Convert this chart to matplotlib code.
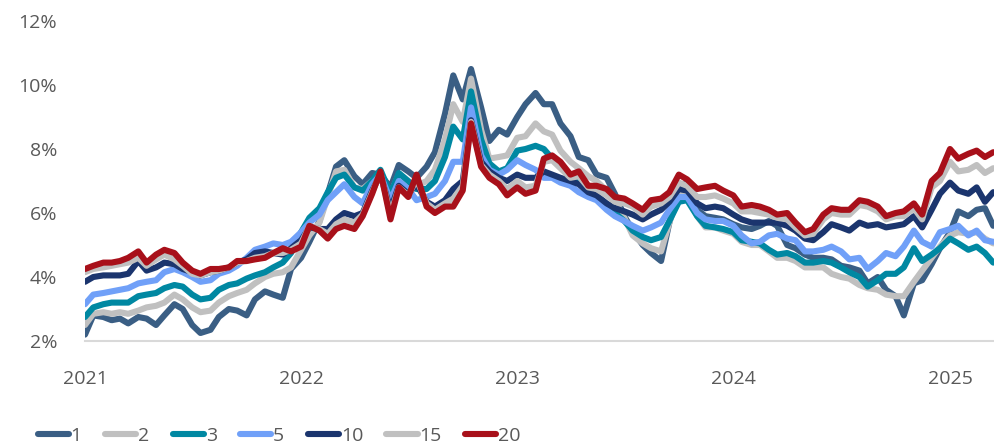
import pandas as pd
import matplotlib.pyplot as plt
import matplotlib.dates as mdates
from matplotlib.ticker import FuncFormatter

# semi-monthly observations, Jan 2021 - mid Mar 2025
dates = pd.date_range('2021-01-01', periods=102, freq='SMS')

y1 = [2.2, 2.8, 2.75, 2.65, 2.7, 2.55, 2.75, 2.7, 2.5, 2.8, 3.15, 3.0, 2.5, 2.25, 2.35, 2.75, 3.0, 2.95, 2.8, 3.3, 3.55, 3.45, 3.35, 4.25, 4.6,
      5.1, 5.75, 6.6, 7.45, 7.65, 7.15, 6.9, 7.25, 7.2, 6.8, 7.5, 7.3, 7.1, 7.45, 7.9, 9.1, 10.3, 9.55, 10.5, 9.3, 8.25, 8.6, 8.45, 9.0,
      9.4, 9.75, 9.4, 9.4, 8.8, 8.4, 7.75, 7.65, 7.2, 7.1, 6.6, 5.9, 5.45, 5.0, 4.75, 4.5, 5.7, 6.85, 6.95, 6.1, 5.9, 5.85, 5.8, 5.65,
      5.55, 5.5, 5.6, 5.75, 5.6, 5.0, 4.9, 4.7, 4.6, 4.6, 4.55, 4.35, 4.3, 4.2, 3.8, 4.0, 3.6, 3.4, 2.8, 3.8, 3.9, 4.4, 4.9, 5.4, 6.05, 5.9, 6.1, 6.15, 5.6]

y2 = [2.5, 2.85, 2.9, 2.85, 2.9, 2.85, 2.95, 3.05, 3.1, 3.2, 3.45, 3.3, 3.05, 2.9, 2.95, 3.2, 3.4, 3.5, 3.6, 3.8, 4.0, 4.1, 4.15, 4.3, 4.85,
      5.3, 5.7, 6.5, 7.3, 7.35, 6.8, 6.75, 7.0, 7.2, 6.6, 7.2, 6.9, 6.85, 7.0, 7.35, 8.3, 9.4, 8.85, 10.2, 8.6, 7.7, 7.75, 7.8, 8.35,
      8.4, 8.8, 8.55, 8.45, 7.95, 7.6, 7.4, 7.15, 7.0, 6.7, 6.4, 5.85, 5.3, 5.05, 4.9, 4.8, 5.7, 6.55, 6.6, 5.9, 5.55, 5.55, 5.45, 5.35,
      5.1, 5.0, 5.0, 4.8, 4.6, 4.6, 4.5, 4.3, 4.3, 4.3, 4.1, 4.0, 3.95, 3.75, 3.65, 3.6, 3.45, 3.4, 3.4, 3.85, 4.2, 4.6, 4.95, 5.3, 5.4, 5.35, 5.4, 5.2, 5.05]

y3 = [2.75, 3.05, 3.15, 3.2, 3.2, 3.2, 3.4, 3.45, 3.5, 3.65, 3.75, 3.7, 3.45, 3.3, 3.35, 3.6, 3.75, 3.8, 3.95, 4.05, 4.15, 4.3, 4.45, 4.75, 5.4,
      5.85, 6.15, 6.65, 7.1, 7.2, 6.8, 6.7, 7.0, 7.35, 6.6, 7.25, 7.0, 6.75, 6.75, 7.0, 7.75, 8.7, 8.3, 9.8, 8.3, 7.55, 7.3, 7.4, 7.95,
      8.0, 8.1, 8.0, 7.7, 7.45, 7.2, 7.0, 6.7, 6.5, 6.25, 6.0, 5.75, 5.45, 5.25, 5.15, 5.25, 5.75, 6.35, 6.4, 5.9, 5.6, 5.55, 5.5, 5.4,
      5.15, 5.1, 5.05, 4.85, 4.7, 4.75, 4.65, 4.45, 4.45, 4.5, 4.45, 4.3, 4.15, 4.0, 3.7, 3.9, 4.1, 4.1, 4.3, 4.9, 4.5, 4.7, 4.9, 5.2, 5.05, 4.85, 4.95, 4.75, 4.45]

y5 = [3.15, 3.45, 3.5, 3.55, 3.6, 3.65, 3.8, 3.85, 3.9, 4.15, 4.25, 4.15, 4.0, 3.85, 3.9, 4.1, 4.2, 4.35, 4.6, 4.85, 4.95, 5.05, 5.0, 5.1, 5.4,
      5.7, 5.95, 6.4, 6.65, 6.9, 6.5, 6.3, 6.9, 7.2, 6.4, 7.0, 6.75, 6.4, 6.5, 6.6, 7.0, 7.6, 7.6, 9.3, 7.8, 7.35, 7.2, 7.35, 7.65,
      7.5, 7.35, 7.1, 7.1, 6.95, 6.85, 6.65, 6.5, 6.4, 6.1, 5.9, 5.75, 5.6, 5.45, 5.55, 5.7, 6.1, 6.5, 6.5, 6.0, 5.8, 5.75, 5.75, 5.6,
      5.3, 5.05, 5.1, 5.3, 5.35, 5.2, 5.15, 4.8, 4.8, 4.85, 4.95, 4.8, 4.55, 4.6, 4.25, 4.5, 4.75, 4.65, 4.95, 5.45, 5.1, 4.95, 5.4, 5.5, 5.6, 5.3, 5.45, 5.15, 5.1]

y10 = [3.85, 4.0, 4.05, 4.05, 4.05, 4.1, 4.5, 4.2, 4.3, 4.45, 4.4, 4.25, 4.15, 4.05, 4.15, 4.2, 4.3, 4.45, 4.55, 4.75, 4.8, 4.75, 4.7, 4.9, 5.15,
       5.55, 5.5, 5.5, 5.8, 6.0, 5.9, 6.0, 6.7, 7.2, 6.1, 6.85, 6.6, 6.9, 6.35, 6.2, 6.4, 6.75, 7.0, 8.9, 7.6, 7.3, 7.1, 7.0, 7.2,
       7.1, 7.1, 7.3, 7.2, 7.1, 7.0, 6.9, 6.65, 6.55, 6.3, 6.15, 6.05, 5.95, 5.8, 5.95, 6.1, 6.35, 6.75, 6.7, 6.3, 6.15, 6.2, 6.15, 5.95,
       5.8, 5.7, 5.7, 5.7, 5.7, 5.6, 5.45, 5.2, 5.15, 5.4, 5.65, 5.55, 5.45, 5.7, 5.6, 5.65, 5.55, 5.6, 5.65, 5.9, 5.55, 6.1, 6.6, 6.95, 6.7, 6.6, 6.8, 6.35, 6.65]

y15 = [4.15, 4.25, 4.3, 4.35, 4.4, 4.45, 4.6, 4.35, 4.55, 4.7, 4.55, 4.35, 4.1, 4.05, 4.15, 4.2, 4.3, 4.45, 4.5, 4.6, 4.65, 4.75, 4.75, 4.85, 5.05,
       5.6, 5.5, 5.35, 5.65, 5.8, 5.7, 5.95, 6.65, 7.25, 5.95, 6.8, 6.55, 7.05, 6.3, 6.1, 6.3, 6.45, 6.85, 8.85, 7.5, 7.2, 7.0, 6.75, 7.0,
       6.8, 6.85, 7.6, 7.65, 7.4, 7.1, 7.15, 6.8, 6.75, 6.55, 6.35, 6.3, 6.2, 5.95, 6.2, 6.3, 6.5, 6.95, 6.85, 6.5, 6.5, 6.55, 6.45, 6.3,
       6.05, 6.05, 6.0, 5.95, 5.85, 5.8, 5.55, 5.3, 5.35, 5.8, 6.0, 5.95, 5.95, 6.25, 6.2, 6.05, 5.8, 5.9, 5.9, 6.15, 5.8, 6.8, 7.0, 7.6, 7.3, 7.35, 7.5, 7.25, 7.4]

y20 = [4.25, 4.35, 4.45, 4.45, 4.5, 4.6, 4.8, 4.45, 4.7, 4.85, 4.75, 4.45, 4.2, 4.1, 4.25, 4.25, 4.3, 4.5, 4.5, 4.55, 4.6, 4.75, 4.9, 4.8, 4.95,
       5.6, 5.45, 5.2, 5.5, 5.6, 5.5, 5.9, 6.6, 7.3, 5.8, 6.8, 6.5, 7.2, 6.2, 6.0, 6.2, 6.2, 6.7, 8.8, 7.45, 7.1, 6.9, 6.55, 6.8,
       6.6, 6.7, 7.7, 7.8, 7.6, 7.2, 7.3, 6.85, 6.85, 6.75, 6.5, 6.45, 6.3, 6.1, 6.4, 6.45, 6.65, 7.2, 7.05, 6.75, 6.8, 6.85, 6.7, 6.55,
       6.2, 6.25, 6.2, 6.1, 5.95, 6.0, 5.7, 5.4, 5.5, 5.95, 6.15, 6.1, 6.1, 6.4, 6.35, 6.2, 5.9, 6.0, 6.05, 6.3, 5.95, 7.0, 7.25, 8.0, 7.7, 7.85, 7.95, 7.75, 7.9]

labels = ['1', '2', '3', '5', '10', '15', '20']
series = [y1, y2, y3, y5, y10, y15, y20]
colors = ['#3A5E84', '#C0C0C0', '#0088A2', '#70A0F8', '#1B356E', '#C0C0C0', '#A8101A']

plt.rcParams['font.family'] = ['Open Sans', 'DejaVu Sans']
txt = '#595959'

fig = plt.figure(figsize=(9.95, 4.47), dpi=100)
ax = fig.add_axes([85 / 995, 106 / 447, 910 / 995, 320 / 447])

for lab, vals, c in zip(labels, series, colors):
    ax.plot(dates, vals, color=c, lw=4.4, label=lab,
            solid_capstyle='round', solid_joinstyle='round')

ax.set_ylim(2, 12)
ax.set_xlim(pd.Timestamp('2021-01-01'), pd.Timestamp('2025-03-18'))
ax.set_yticks([2, 4, 6, 8, 10, 12])
ax.yaxis.set_major_formatter(FuncFormatter(lambda v, p: f'{v:.0f}%'))
ax.xaxis.set_major_locator(mdates.YearLocator())
ax.xaxis.set_major_formatter(mdates.DateFormatter('%Y'))

for s in ['top', 'right', 'left']:
    ax.spines[s].set_visible(False)
ax.spines['bottom'].set_color('#D9D9D9')
ax.spines['bottom'].set_linewidth(1.5)
ax.spines['bottom'].set_zorder(0)
ax.tick_params(axis='both', length=0, labelsize=14, colors=txt)
ax.tick_params(axis='y', pad=20)
ax.tick_params(axis='x', pad=21)

leg = fig.legend(loc='center left', bbox_to_anchor=(20 / 995, 11 / 447), ncol=7,
                 frameon=False, fontsize=14, handlelength=1.6, handletextpad=0.1,
                 columnspacing=1.2, labelcolor=txt)
for h in leg.get_lines():
    h.set_linewidth(4.4)
    h.set_solid_capstyle('round')

fig.savefig('out.png', dpi=100)
